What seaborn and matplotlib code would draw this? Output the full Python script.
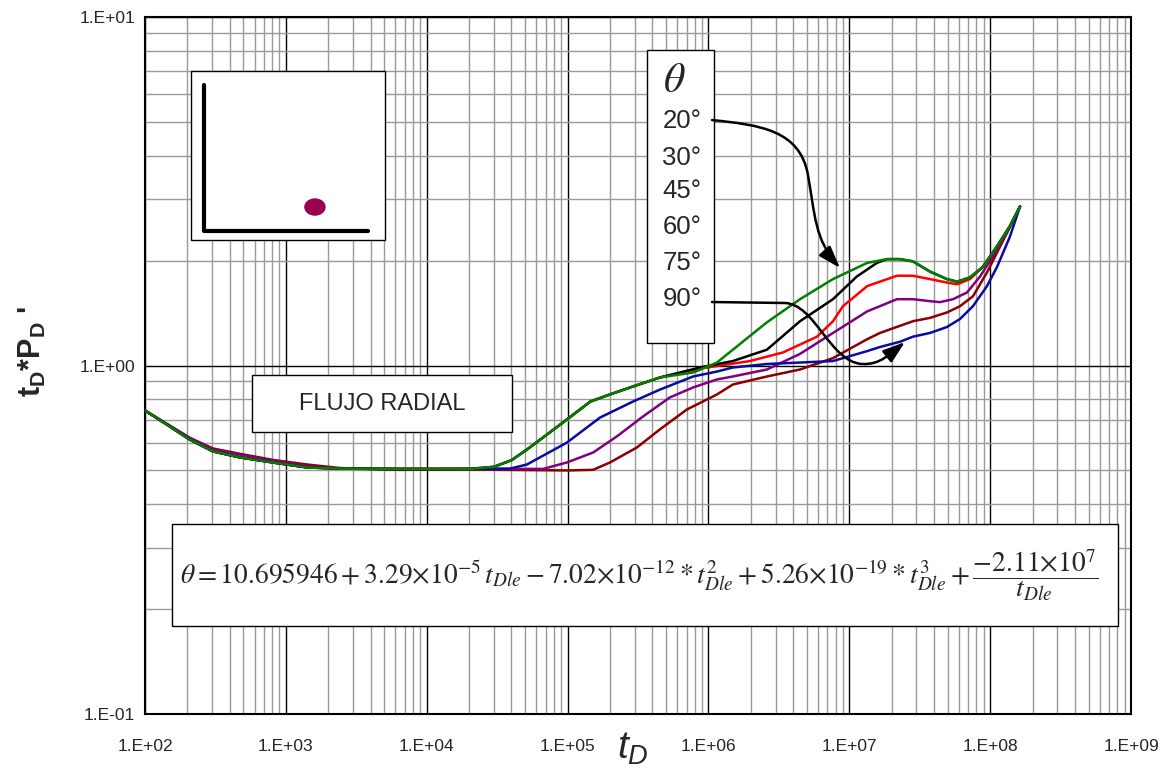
import numpy as np
import pandas as pd
import seaborn as sns
import matplotlib.pyplot as plt
from matplotlib.patches import Rectangle, Ellipse, FancyArrowPatch
from matplotlib.path import Path
from matplotlib.ticker import FixedLocator, FuncFormatter, NullFormatter

# curve values (tD, tD*PD')
angles = ["20°", "30°", "45°", "60°", "75°", "90°"]
colors = ["#008000", "#000000", "#FF0000", "#800080", "#8B0000", "#0A0AA0"]

td_20 = [1.0e2, 1.43e2, 2.08e2, 3.04e2, 4.72e2, 8.1e2, 1.41e3, 2.42e3, 6.46e3, 2.03e4,
         3.0e4, 4.0e4, 5.15e4, 7.15e4, 9.9e4, 1.45e5, 2.0e5, 2.9e5, 4.53e5, 7.8e5,
         1.15e6, 1.49e6, 2.6e6, 4.47e6, 7.66e6, 1.34e7, 1.85e7, 2.29e7, 2.83e7, 3.74e7,
         4.94e7, 5.82e7, 7.19e7, 8.89e7, 1.12e8, 1.38e8, 1.63e8]
dp_20 = [0.743, 0.677, 0.613, 0.567, 0.545, 0.527, 0.510, 0.506, 0.505, 0.505,
         0.512, 0.535, 0.574, 0.634, 0.700, 0.788, 0.826, 0.870, 0.924, 0.955,
         1.02, 1.11, 1.33, 1.55, 1.77, 1.97, 2.02, 2.02, 1.99, 1.86,
         1.77, 1.74, 1.79, 1.92, 2.20, 2.51, 2.86]

td_30 = [1.0e2, 1.43e2, 2.08e2, 3.04e2, 4.72e2, 8.1e2, 1.41e3, 2.42e3, 6.46e3, 2.03e4,
         3.0e4, 4.0e4, 5.15e4, 7.15e4, 9.9e4, 1.45e5, 2.0e5, 2.9e5, 4.53e5, 8.71e5,
         1.49e6, 2.6e6, 4.47e6, 7.66e6, 1.13e7, 1.57e7, 1.85e7, 2.29e7, 2.83e7, 3.74e7,
         4.94e7, 5.82e7, 7.19e7, 8.89e7, 1.12e8, 1.38e8, 1.63e8]
dp_30 = [0.743, 0.677, 0.613, 0.567, 0.545, 0.527, 0.510, 0.506, 0.505, 0.505,
         0.512, 0.535, 0.574, 0.634, 0.700, 0.788, 0.826, 0.870, 0.924, 0.987,
         1.03, 1.11, 1.34, 1.55, 1.80, 1.97, 2.02, 2.02, 1.99, 1.86,
         1.77, 1.74, 1.79, 1.92, 2.20, 2.51, 2.86]

td_45 = [1.0e2, 1.43e2, 2.08e2, 3.04e2, 4.72e2, 8.1e2, 1.41e3, 2.42e3, 6.46e3, 2.03e4,
         3.0e4, 4.0e4, 5.15e4, 7.15e4, 9.9e4, 1.45e5, 2.0e5, 2.9e5, 4.53e5, 8.71e5,
         1.97e6, 3.38e6, 5.9e6, 7.66e6, 9.02e6, 1.34e7, 2.18e7, 2.83e7, 3.74e7, 4.94e7,
         5.82e7, 7.19e7, 8.89e7, 1.12e8, 1.38e8, 1.63e8]
dp_45 = [0.743, 0.677, 0.613, 0.567, 0.545, 0.527, 0.510, 0.506, 0.505, 0.505,
         0.512, 0.535, 0.574, 0.634, 0.700, 0.788, 0.826, 0.870, 0.924, 0.980,
         1.03, 1.09, 1.21, 1.34, 1.48, 1.69, 1.81, 1.81, 1.77, 1.73,
         1.71, 1.77, 1.92, 2.20, 2.51, 2.86]

td_60 = [1.0e2, 1.43e2, 2.08e2, 3.04e2, 4.72e2, 8.1e2, 1.41e3, 2.42e3, 6.46e3, 2.03e4,
         6.7e4, 9.9e4, 1.52e5, 2.24e5, 3.43e5, 5.33e5, 7.77e5, 1.15e6, 1.49e6, 2.6e6,
         4.47e6, 7.66e6, 1.34e7, 2.18e7, 2.83e7, 3.74e7, 4.4e7, 5.45e7, 6.85e7, 8.47e7,
         1.05e8, 1.32e8, 1.63e8]
dp_60 = [0.743, 0.680, 0.620, 0.575, 0.555, 0.534, 0.515, 0.506, 0.503, 0.505,
         0.505, 0.527, 0.563, 0.626, 0.714, 0.810, 0.865, 0.912, 0.930, 0.974,
         1.08, 1.24, 1.43, 1.55, 1.55, 1.53, 1.52, 1.55, 1.62, 1.80,
         2.06, 2.41, 2.86]

td_75 = [1.0e2, 1.43e2, 2.08e2, 3.04e2, 4.72e2, 8.1e2, 1.41e3, 2.42e3, 6.46e3, 2.03e4,
         1.0e5, 1.52e5, 2.0e5, 3.11e5, 4.53e5, 7.04e5, 1.15e6, 1.49e6, 2.6e6, 4.47e6,
         7.66e6, 1.34e7, 1.65e7, 2.29e7, 2.83e7, 3.74e7, 4.94e7, 6.11e7, 7.55e7, 9.5e7,
         1.18e8, 1.63e8]
dp_75 = [0.743, 0.680, 0.620, 0.578, 0.558, 0.536, 0.520, 0.508, 0.502, 0.503,
         0.500, 0.502, 0.527, 0.582, 0.656, 0.748, 0.826, 0.882, 0.930, 0.974,
         1.05, 1.19, 1.24, 1.30, 1.34, 1.37, 1.42, 1.48, 1.58, 1.85,
         2.20, 2.86]

td_90 = [1.0e2, 1.43e2, 2.08e2, 3.04e2, 4.72e2, 8.1e2, 1.41e3, 2.42e3, 6.46e3, 2.03e4,
         3.9e4, 5.15e4, 9.9e4, 1.7e5, 2.91e5, 4.53e5, 7.77e5, 1.15e6, 1.49e6, 2.6e6,
         4.47e6, 7.66e6, 1.34e7, 1.65e7, 2.29e7, 2.83e7, 3.74e7, 4.94e7, 6.11e7, 7.55e7,
         9.5e7, 1.12e8, 1.38e8, 1.63e8]
dp_90 = [0.743, 0.677, 0.613, 0.567, 0.545, 0.527, 0.510, 0.506, 0.505, 0.505,
         0.506, 0.520, 0.601, 0.709, 0.788, 0.853, 0.930, 0.961, 0.987, 1.01,
         1.02, 1.03, 1.10, 1.13, 1.17, 1.21, 1.24, 1.29, 1.36, 1.48,
         1.69, 1.92, 2.34, 2.86]

series = {
    "20°": (td_20, dp_20), "30°": (td_30, dp_30), "45°": (td_45, dp_45),
    "60°": (td_60, dp_60), "75°": (td_75, dp_75), "90°": (td_90, dp_90),
}
draw_order = ["75°", "60°", "90°", "45°", "30°", "20°"]

x_decades = list(range(2, 10))    # 1.E+02 .. 1.E+09
y_decades = list(range(-1, 2))    # 1.E-01 .. 1.E+01

equation = (r"$\theta = 10.695946 + 3.29{\times}10^{-5}\,t_{Dle} - 7.02{\times}10^{-12} * t_{Dle}^{2}"
            r" + 5.26{\times}10^{-19} * t_{Dle}^{3} + \dfrac{-2.11{\times}10^{7}}{t_{Dle}}$")

sns.set_style("white")
plt.rcParams["font.family"] = ["Liberation Sans", "DejaVu Sans"]
plt.rcParams["mathtext.fontset"] = "custom"
plt.rcParams["mathtext.rm"] = "Liberation Sans"
plt.rcParams["mathtext.it"] = "Liberation Sans:italic"
plt.rcParams["mathtext.bf"] = "Liberation Sans:bold"

fig = plt.figure(figsize=(11.69, 7.74), dpi=100)
ax = fig.add_axes([0.1240, 0.0775, 0.8435, 0.9005])
ax.set_xscale("log")
ax.set_yscale("log")

color_of = dict(zip(angles, colors))
for name in draw_order:
    td, dp = series[name]
    df = pd.DataFrame({"tD": td, "dP": dp})
    sns.lineplot(data=df, x="tD", y="dP", color=color_of[name], lw=1.8,
                 estimator=None, sort=False, ax=ax, zorder=4)

ax.set_xlim(10.0 ** x_decades[0], 10.0 ** x_decades[-1])
ax.set_ylim(10.0 ** y_decades[0], 10.0 ** y_decades[-1])

# ticks only inside the plotted range
x_major = [10.0 ** k for k in x_decades]
y_major = [10.0 ** k for k in y_decades]
x_minor = [m * 10.0 ** k for k in x_decades[:-1] for m in range(2, 10)]
y_minor = [m * 10.0 ** k for k in y_decades[:-1] for m in range(2, 10)]
ax.xaxis.set_major_locator(FixedLocator(x_major))
ax.yaxis.set_major_locator(FixedLocator(y_major))
ax.xaxis.set_minor_locator(FixedLocator(x_minor))
ax.yaxis.set_minor_locator(FixedLocator(y_minor))
fmt = FuncFormatter(lambda v, p: "1.E{:+03d}".format(int(round(np.log10(v)))))
ax.xaxis.set_major_formatter(fmt)
ax.yaxis.set_major_formatter(fmt)
ax.xaxis.set_minor_formatter(NullFormatter())
ax.yaxis.set_minor_formatter(NullFormatter())

ax.grid(which="minor", color="#9a9a9a", lw=1.0)
ax.grid(which="major", color="black", lw=1.0)
ax.set_axisbelow(True)
for s in ax.spines.values():
    s.set_color("black")
    s.set_linewidth(1.5)

ax.tick_params(axis="x", which="major", direction="out", length=6, pad=12,
               labelsize=12.5, color="black")
ax.tick_params(axis="y", which="major", direction="inout", length=10, pad=2,
               labelsize=12.5, color="black")
ax.tick_params(which="minor", direction="in", length=5, color="black")

# axis titles
ax.set_xlabel(r"$\mathit{t_D}$", fontsize=28)
ax.xaxis.set_label_coords(0.495, -0.05)
ax.xaxis.label.set_verticalalignment("center")
ax.set_ylabel(r"$\mathbf{t_D}$*$\mathbf{P_D}$ '", fontsize=22, fontweight="bold")
ax.yaxis.set_label_coords(-0.1146, 0.5208)
ax.yaxis.label.set_verticalalignment("center")

# inset sketch of the well position
ax.add_patch(Rectangle((0.0467, 0.680), 0.1967, 0.2425, transform=ax.transAxes,
                       facecolor="white", edgecolor="black", lw=1.0, zorder=5))
ax.plot([0.0598, 0.0598, 0.2262], [0.9024, 0.693, 0.693], color="black", lw=3,
        transform=ax.transAxes, zorder=6)
ax.add_patch(Ellipse((0.1724, 0.7274), 0.0203, 0.023, transform=ax.transAxes,
                     color="#990050", zorder=6))

# angle legend box
ax.add_patch(Rectangle((0.5091, 0.5323), 0.068, 0.4204, transform=ax.transAxes,
                       facecolor="white", edgecolor="black", lw=1.0, zorder=5))
ax.text(0.5365, 0.9082, r"$\theta$", math_fontfamily="stix", fontsize=30,
        transform=ax.transAxes, ha="center", va="center", zorder=6)
item_y = [0.8510, 0.7980, 0.7505, 0.6990, 0.6475, 0.5960]
for name, yy in zip(angles, item_y):
    ax.text(0.5446, yy, name, fontsize=18.5, transform=ax.transAxes,
            ha="center", va="center", zorder=6)

# arrows from the legend to the curves
p20 = Path([(0.5751, 0.8522), (0.6237, 0.8451), (0.6643, 0.8379), (0.6724, 0.7733),
            (0.6795, 0.7159), (0.6795, 0.6801), (0.7049, 0.6399)],
           [Path.MOVETO, Path.CURVE4, Path.CURVE4, Path.CURVE4,
            Path.CURVE4, Path.CURVE4, Path.CURVE4])
p90 = Path([(0.5751, 0.5911), (0.6491, 0.5897), (0.6795, 0.5882), (0.6947, 0.5050),
            (0.7272, 0.5022), (0.7454, 0.5007), (0.7556, 0.5165), (0.7708, 0.5337)],
           [Path.MOVETO, Path.LINETO, Path.CURVE4, Path.CURVE4, Path.CURVE4,
            Path.CURVE4, Path.CURVE4, Path.CURVE4])
for p in (p20, p90):
    ax.add_patch(FancyArrowPatch(path=p, arrowstyle="-|>,head_length=0.9,head_width=0.3",
                                 mutation_scale=15, lw=1.8, color="black",
                                 transform=ax.transAxes, zorder=7))

# flow regime label
ax.add_patch(Rectangle((0.1085, 0.4046), 0.2637, 0.0818, transform=ax.transAxes,
                       facecolor="white", edgecolor="black", lw=1.0, zorder=5))
ax.text(0.2404, 0.4448, "FLUJO RADIAL", fontsize=17, transform=ax.transAxes,
        ha="center", va="center", zorder=6)

# correlation for theta
ax.add_patch(Rectangle((0.0274, 0.1263), 0.9594, 0.1463, transform=ax.transAxes,
                       facecolor="white", edgecolor="black", lw=1.0, zorder=5))
ax.text(0.501, 0.1994, equation, math_fontfamily="stix", fontsize=19.8,
        transform=ax.transAxes, ha="center", va="center", zorder=6)

fig.savefig("out.png", dpi=100)
